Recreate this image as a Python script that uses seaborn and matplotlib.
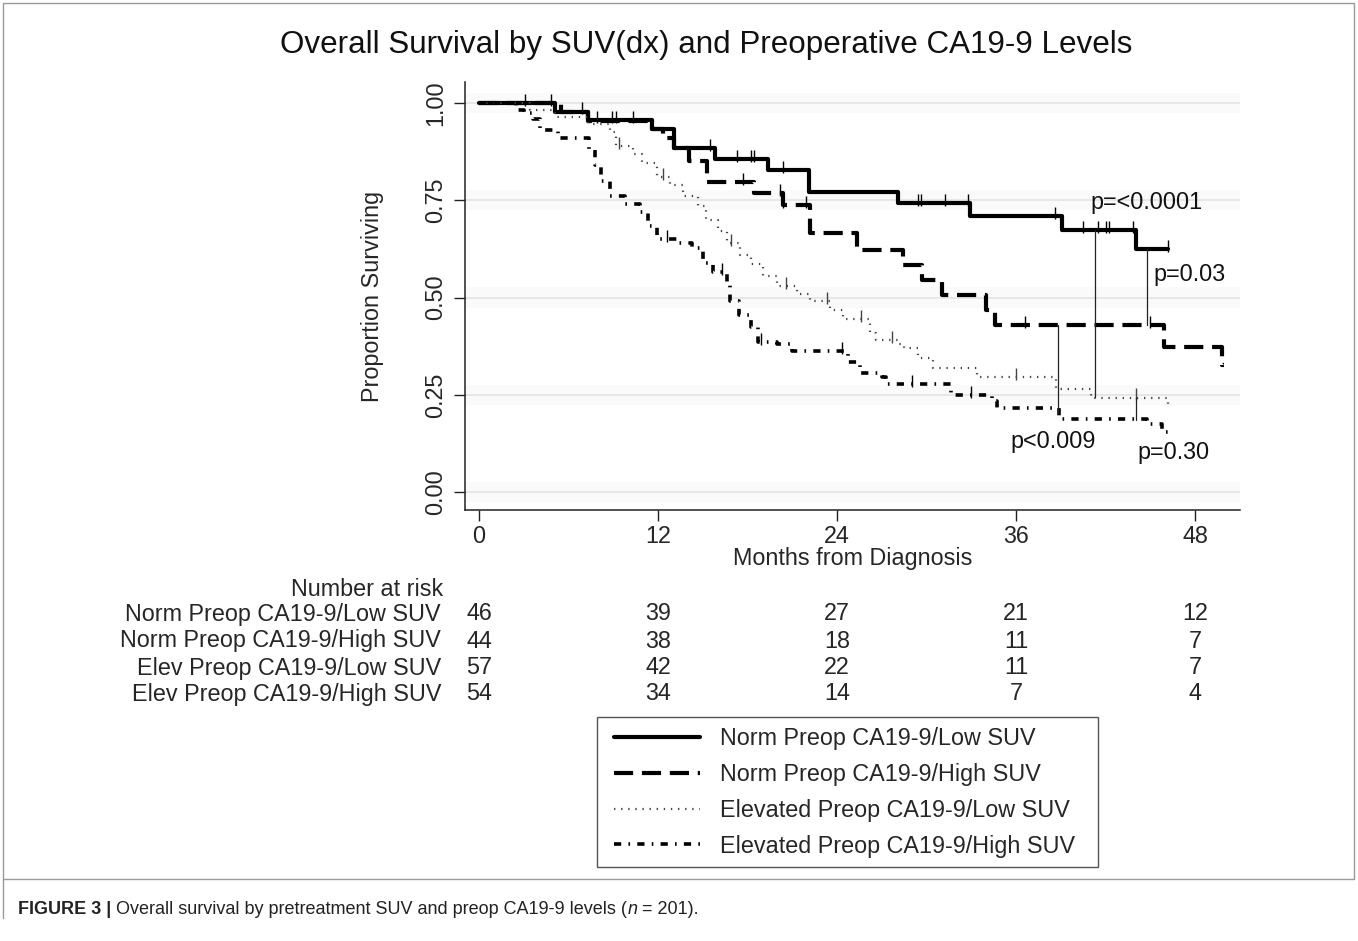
import numpy as np
import pandas as pd
import matplotlib
matplotlib.use("Agg")
import matplotlib.pyplot as plt
import seaborn as sns
from matplotlib.lines import Line2D
from matplotlib.transforms import blended_transform_factory, IdentityTransform

# Kaplan-Meier steps: month of each step, survival after it
nl_t = [0, 5.1, 7.3, 11.6, 13.1, 15.8, 19.4, 22.1, 28.1, 32.9, 39.1, 44.0, 46.2]
nl_s = [1.0, 0.978, 0.956, 0.933, 0.884, 0.856, 0.828, 0.771, 0.743, 0.710, 0.673, 0.625, 0.625]
nh_t = [0, 5.5, 7.3, 11.6, 12.3, 13.1, 14.1, 15.3, 18.4, 20.4, 22.2, 25.3, 28.4, 29.7, 31.0,
        34.0, 34.6, 45.9, 49.8, 49.95]
nh_s = [1.0, 0.977, 0.955, 0.933, 0.91, 0.885, 0.85, 0.797, 0.768, 0.738, 0.666, 0.622, 0.584,
        0.545, 0.506, 0.468, 0.429, 0.373, 0.326, 0.326]
el_t = [0, 3.4, 5.1, 7.3, 8.8, 9.2, 10.3, 10.9, 11.9, 12.8, 13.7, 14.7, 15.2, 16.0, 16.6, 17.5,
        18.2, 19.0, 20.0, 21.3, 22.2, 23.5, 24.4, 26.2, 26.6, 28.1, 28.5, 29.4, 30.4, 33.4, 38.7,
        41.0, 46.2, 46.4]
el_s = [1.0, 0.982, 0.965, 0.945, 0.925, 0.89, 0.87, 0.845, 0.81, 0.79, 0.76, 0.735, 0.70, 0.67,
        0.64, 0.61, 0.585, 0.555, 0.53, 0.51, 0.49, 0.468, 0.445, 0.41, 0.39, 0.38, 0.37, 0.345,
        0.32, 0.296, 0.265, 0.243, 0.226, 0.226]
eh_t = [0, 2.5, 3.0, 3.6, 4.1, 5.3, 7.4, 7.8, 8.2, 8.8, 9.8, 10.8, 11.3, 11.9, 13.3, 14.3, 15.0,
        15.7, 16.6, 16.8, 17.4, 18.2, 18.7, 20.0, 21.0, 24.7, 25.5, 27.0, 27.3, 31.6, 34.4, 34.7,
        38.9, 44.8, 45.8, 46.6]
eh_s = [1.0, 0.982, 0.974, 0.96, 0.93, 0.91, 0.88, 0.84, 0.80, 0.76, 0.74, 0.72, 0.685, 0.65,
        0.64, 0.627, 0.59, 0.565, 0.535, 0.49, 0.455, 0.425, 0.385, 0.38, 0.362, 0.335, 0.306,
        0.296, 0.277, 0.25, 0.235, 0.217, 0.188, 0.175, 0.155, 0.155]

# censoring ticks (months)
nl_c = [3.1, 4.8, 6.9, 7.9, 8.9, 9.2, 10.3, 15.5, 17.3, 18.2, 18.4, 20.4, 29.4, 29.6, 31.2,
        32.8, 38.6, 40.5, 41.5, 42.0, 42.2, 43.8, 46.2]
nh_c = [17.7, 20.2, 20.4, 21.9, 36.6, 45.0]
el_c = [9.4, 12.3, 16.9, 20.6, 23.3, 25.6, 27.7, 36.0, 44.0]
eh_c = [12.6, 16.3, 18.9, 24.3, 29.0, 33.0]

groups = ["Norm Preop CA19-9/Low SUV", "Norm Preop CA19-9/High SUV",
          "Elevated Preop CA19-9/Low SUV", "Elevated Preop CA19-9/High SUV"]
risk_labels = ["Norm Preop CA19-9/Low SUV", "Norm Preop CA19-9/High SUV",
               "Elev Preop CA19-9/Low SUV", "Elev Preop CA19-9/High SUV"]
risk_times = [0, 12, 24, 36, 48]
risk_nl = [46, 39, 27, 21, 12]
risk_nh = [44, 38, 18, 11, 7]
risk_el = [57, 42, 22, 11, 7]
risk_eh = [54, 34, 14, 7, 4]

# p-value comparison lines: month, low end, high end, label, label pos
p_month = [41.3, 44.8, 38.8, 44.0]
p_low = [0.244, 0.429, 0.203, 0.186]
p_high = [0.673, 0.625, 0.429, 0.243]
p_text = ["p=<0.0001", "p=0.03", "p<0.009", "p=0.30"]
p_tx = [41.0, 45.2, 35.6, 44.1]
p_ty = [0.745, 0.558, 0.131, 0.103]

curves = {
    groups[0]: (nl_t, nl_s, nl_c),
    groups[1]: (nh_t, nh_s, nh_c),
    groups[2]: (el_t, el_s, el_c),
    groups[3]: (eh_t, eh_s, eh_c),
}
styles = {
    groups[0]: dict(color="black", lw=3.0, ls="-"),
    groups[1]: dict(color="black", lw=3.0, ls=(0, (4.6, 2.1))),
    groups[2]: dict(color="#444444", lw=1.6, ls=(0, (0.6, 2.6))),
    groups[3]: dict(color="black", lw=2.6, ls=(0, (2.0, 2.0, 0.45, 2.0))),
}

sns.set_theme(style="white")
plt.rcParams["font.family"] = ["Liberation Sans", "DejaVu Sans"]
FS = 16.8

W, H = 1358, 941
fig = plt.figure(figsize=(W / 100, H / 100), dpi=100)
ax = fig.add_axes([465 / W, 1 - 510 / H, (1240 - 465) / W, (510 - 82) / H])

# faint Stata-style gridlines
for g in [0, 0.25, 0.5, 0.75, 1.0]:
    ax.axhspan(g - 0.026, g + 0.026, color="#fafafa", lw=0, zorder=0)
    ax.axhline(g, color="#e6e6e6", lw=1.3, zorder=0.5)

for name in groups:
    t, s, c = curves[name]
    df = pd.DataFrame({"month": t, "surv": s})
    st = styles[name]
    sns.lineplot(data=df, x="month", y="surv", ax=ax, estimator=None, sort=False,
                 drawstyle="steps-post", color=st["color"], linewidth=st["lw"],
                 linestyle=st["ls"], zorder=3)
    idx = np.searchsorted(t, c, side="right") - 1
    cy = np.asarray(s)[idx]
    ax.plot(c, cy + 0.008, ls="none", marker="|", ms=8, mew=1.0,
            color=st["color"], zorder=3)

for m, lo, hi in zip(p_month, p_low, p_high):
    ax.plot([m, m], [lo, hi], color="#222222", lw=0.9, zorder=4)
for txt, x, y in zip(p_text, p_tx, p_ty):
    ax.text(x, y, txt, fontsize=FS, ha="left", va="center", color="#111111", zorder=5)

ax.set_xlim(-0.94, 51.0)
ax.set_ylim(-0.046, 1.054)
ax.set_xticks(risk_times)
ax.set_yticks([0, 0.25, 0.5, 0.75, 1.0])
ax.set_yticklabels(["0.00", "0.25", "0.50", "0.75", "1.00"], rotation=90, va="center")
ax.tick_params(axis="both", labelsize=FS, length=8, width=1.0, color="#222222",
               direction="out", left=True, bottom=True)
ax.tick_params(axis="y", pad=5)
ax.tick_params(axis="x", pad=3)
for side in ["top", "right"]:
    ax.spines[side].set_visible(False)
for side in ["left", "bottom"]:
    ax.spines[side].set_color("#222222")
    ax.spines[side].set_linewidth(1.1)

ax.set_xlabel("Months from Diagnosis", fontsize=FS, va="center")
ax.xaxis.set_label_coords(0.5, -(558 - 510) / 428)
ax.set_ylabel("Proportion Surviving", fontsize=FS, va="center")
ax.yaxis.set_label_coords(-(465 - 372) / 775, 0.5)

fig.text(706 / W, 1 - 45 / H, "Overall Survival by SUV(dx) and Preoperative CA19-9 Levels",
         fontsize=22.6, ha="center", va="center", color="#111111")

# number at risk table
tr = blended_transform_factory(ax.transData, fig.transFigure)
fig.text(443 / W, 1 - 589 / H, "Number at risk", fontsize=FS, ha="right", va="center")
row_y = [614, 641, 668, 694]
for lab, counts, yy in zip(risk_labels, [risk_nl, risk_nh, risk_el, risk_eh], row_y):
    fig.text(441 / W, 1 - yy / H, lab, fontsize=FS, ha="right", va="center")
    for tm, n in zip(risk_times, counts):
        ax.text(tm, 1 - yy / H, str(n), transform=tr, fontsize=FS, ha="center", va="center",
                clip_on=False)

# legend: frame drawn by hand, entries placed inside it
handles = [Line2D([], [], color=styles[g]["color"], lw=styles[g]["lw"], ls=styles[g]["ls"])
           for g in groups]
fig.legend(handles, groups, loc="upper left", bbox_to_anchor=(614 / W, 1 - 727 / H),
           fontsize=FS, frameon=False, handlelength=3.7, handletextpad=0.85,
           labelspacing=0.55, borderpad=0, borderaxespad=0)
fig.add_artist(plt.Rectangle((597 / W, 1 - 867 / H), 501 / W, 150 / H,
                             transform=fig.transFigure, fill=False, ec="#555555", lw=1.0))

# outer frame of the figure panel
fig.add_artist(plt.Rectangle((3 / W, 1 - 879 / H), (1354 - 3) / W, (879 - 3) / H,
                             transform=fig.transFigure, fill=False, ec="#9a9a9a", lw=1.0))
fig.add_artist(Line2D([3 / W, 3 / W], [1 - 918 / H, 1 - 879 / H], transform=fig.transFigure,
                      color="#9a9a9a", lw=1.0))

# caption in pieces (bold / regular / italic)
fig.canvas.draw()
rend = fig.canvas.get_renderer()
cap_family = ["Liberation Sans Narrow", "Liberation Sans"]
pieces = [("FIGURE 3 |", dict(weight="bold")),
          (" Overall survival by pretreatment SUV and preop CA19-9 levels (", dict()),
          ("n", dict(style="italic")),
          (" = 201).", dict())]
cx = 18
for txt, kw in pieces:
    t = fig.text(cx, H - 914, txt, transform=IdentityTransform(), fontsize=13,
                 family=cap_family, va="baseline", ha="left", color="#222222", **kw)
    cx = t.get_window_extent(renderer=rend).x1

fig.savefig("out.png", dpi=100)
